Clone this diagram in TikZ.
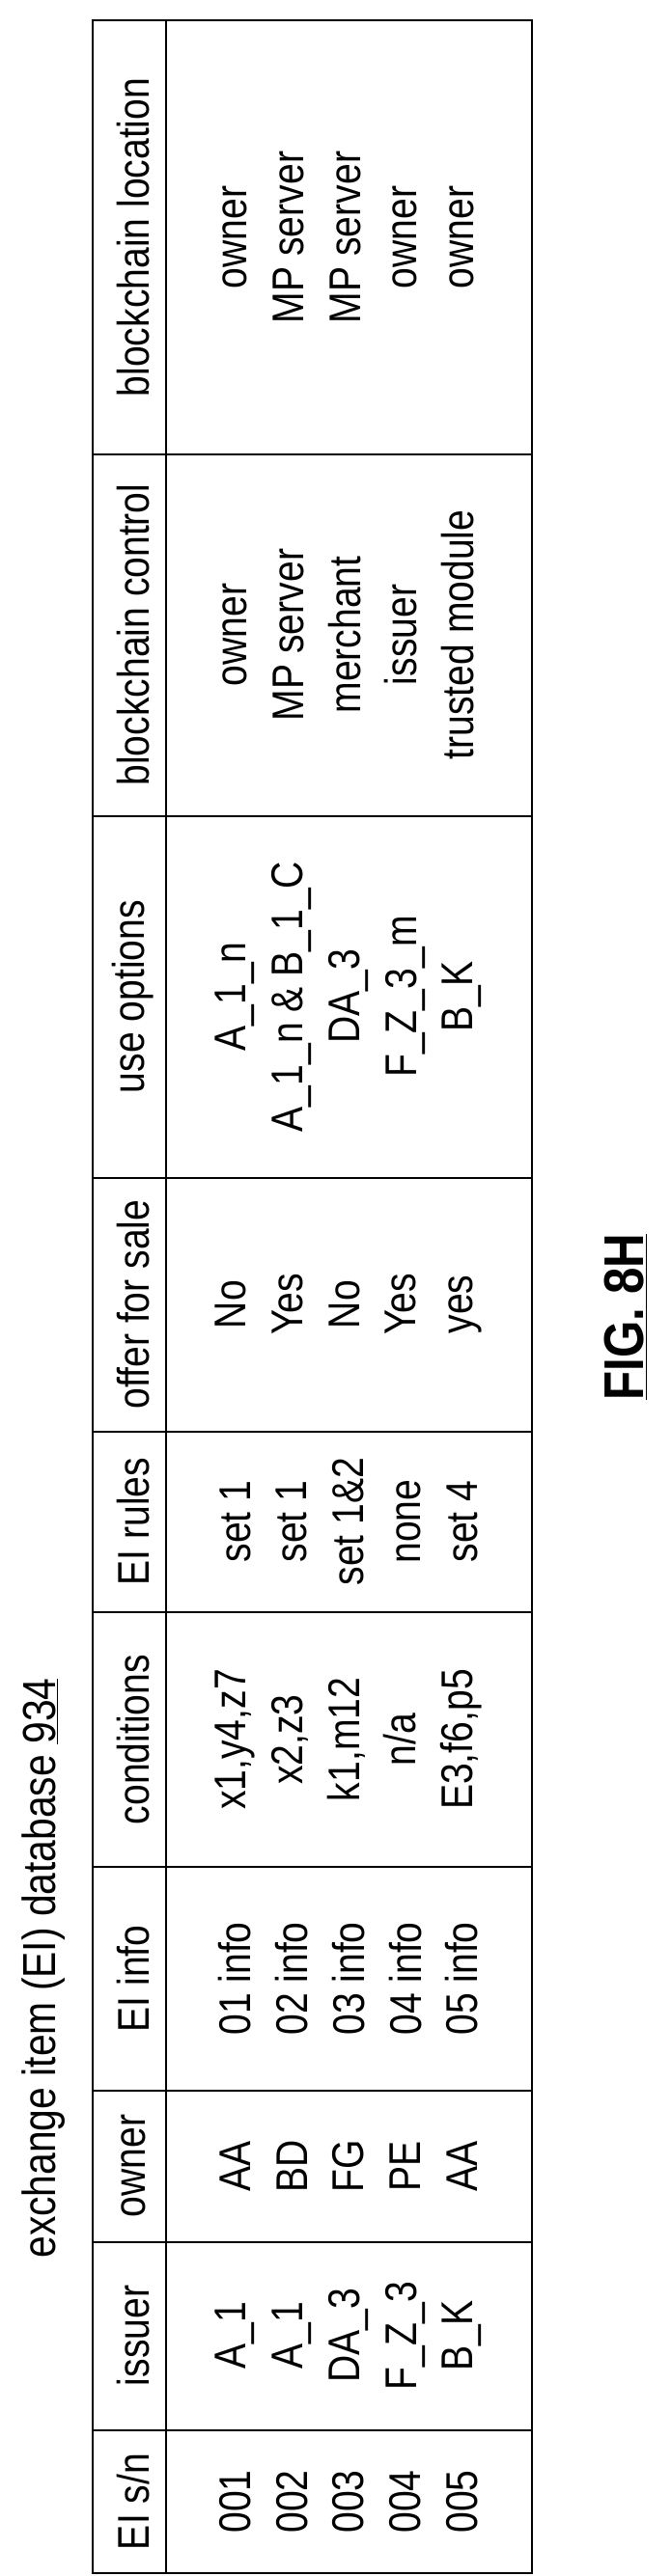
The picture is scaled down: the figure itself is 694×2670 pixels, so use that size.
\documentclass[tikz,border=0pt]{standalone}
\usepackage{fontspec}
\setmainfont{Liberation Sans}[FakeStretch=0.85]
\begin{document}
\begin{tikzpicture}[x=1pt,y=-1pt,
    cell/.style={rotate=90, align=center, font=\fontsize{46}{58.75}\selectfont},
    head/.style={rotate=90, font=\fontsize{46}{50}\selectfont},
    grid/.style={line width=2.5pt},
  ]

\useasboundingbox (0,0) rectangle (694,2670);

\def\tl{96}   % table left
\def\hs{172}  % header separator
\def\tr{551}  % table right

  % Title
  \node[rotate=90, font=\fontsize{48}{50}\selectfont] (title) at (45,2040) {exchange item (EI) database \underline{934}};

  % Frame
  \draw[grid] (\tl,21) rectangle (\tr,2667);
  \draw[grid] (\hs,21) -- (\hs,2667);
  \foreach \y in {471,846,1221,1484,1671,1935,2167,2324,2519}
    \draw[grid] (\tl,\y) -- (\tr,\y);

  % Headers
  \foreach \y/\txt [count=\c] in {2593/{EI s/n}, 2421/issuer, 2245/owner, 2051/EI info,
      1803/conditions, 1577/EI rules, 1352/offer for sale, 1033/use options,
      658/blockchain control, 246/blockchain location}
    \node[head] (h\c) at (138,\y) {\txt};

  % Entries
  \node[cell] (c1) at (361,2593) {001\\002\\003\\004\\005};
  \node[cell] (c2) at (361,2421) {A\_1\\A\_1\\DA\_3\\F\_Z\_3\\B\_K};
  \node[cell] (c3) at (361,2245) {AA\\BD\\FG\\PE\\AA};
  \node[cell] (c4) at (361,2051) {01 info\\02 info\\03 info\\04 info\\05 info};
  \node[cell] (c5) at (361,1803) {x1,y4,z7\\x2,z3\\k1,m12\\n/a\\E3,f6,p5};
  \node[cell] (c6) at (361,1577) {set 1\\set 1\\set 1\&2\\none\\set 4};
  \node[cell] (c7) at (361,1352) {No\\Yes\\No\\Yes\\yes};
  \node[cell] (c8) at (361,1033) {A\_1\_n\\A\_1\_n \& B\_1\_C\\DA\_3\\F\_Z\_3\_m\\B\_K};
  \node[cell] (c9) at (361,658) {owner\\MP server\\merchant\\issuer\\trusted module};
  \node[cell] (c10) at (361,246) {owner\\MP server\\MP server\\owner\\owner};

  % Figure label
  \node[rotate=90, font=\fontsize{58}{60}\selectfont\bfseries] (fig) at (648,1365) {\underline{FIG. 8H}};

\end{tikzpicture}
\end{document}
